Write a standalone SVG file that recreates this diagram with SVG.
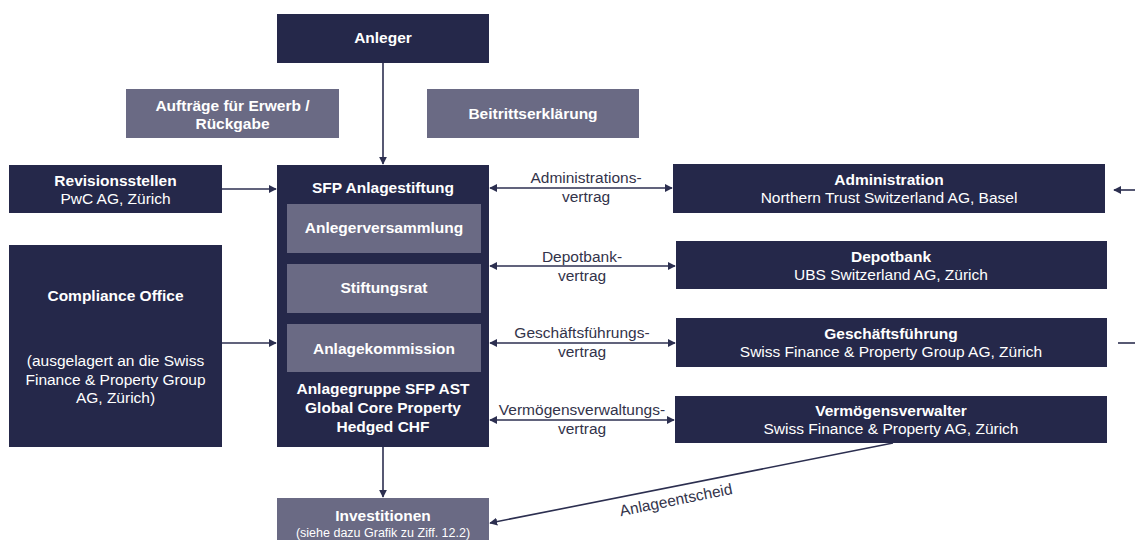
<svg xmlns="http://www.w3.org/2000/svg" width="1135" height="540" viewBox="0 0 1135 540">
<style>
.dark{fill:#25284a}
.gray{fill:#6a6a84}
.t{font-family:"Liberation Sans",Arial,sans-serif;font-size:15.5px;fill:#ffffff;text-anchor:middle}
.b{font-weight:bold}
.s{font-size:12.5px}
.lbl{font-family:"Liberation Sans",Arial,sans-serif;font-size:15.5px;fill:#33334a;text-anchor:middle}
.ln{stroke:#2c2f50;stroke-width:1.6;fill:none}
</style>
<defs>
<marker id="ah" viewBox="0 0 10 10" refX="9" refY="5" markerWidth="8" markerHeight="8" markerUnits="userSpaceOnUse" orient="auto-start-reverse">
<path d="M0,0 L10,5 L0,10 z" fill="#2c2f50"/>
</marker>
</defs>
<rect width="1135" height="540" fill="#ffffff"/>

<g id="connectors">
<line class="ln" x1="383" y1="62" x2="383" y2="164" marker-end="url(#ah)"/>
<line class="ln" x1="222" y1="189" x2="276" y2="189" marker-end="url(#ah)"/>
<line class="ln" x1="222" y1="343" x2="276" y2="343" marker-end="url(#ah)"/>
<line class="ln" x1="383" y1="447" x2="383" y2="497" marker-end="url(#ah)"/>
<line class="ln" x1="490" y1="188" x2="672" y2="188" marker-start="url(#ah)" marker-end="url(#ah)"/>
<line class="ln" x1="490" y1="266" x2="675" y2="266" marker-start="url(#ah)" marker-end="url(#ah)"/>
<line class="ln" x1="490" y1="343" x2="675" y2="343" marker-start="url(#ah)" marker-end="url(#ah)"/>
<line class="ln" x1="490" y1="420" x2="674" y2="420" marker-start="url(#ah)" marker-end="url(#ah)"/>
<line class="ln" x1="893" y1="443" x2="490" y2="523" marker-end="url(#ah)"/>
<line class="ln" x1="1135" y1="190" x2="1114" y2="190" marker-end="url(#ah)"/>
<line class="ln" x1="1118" y1="343" x2="1135" y2="343" stroke="#8a8a9a"/>
<text class="lbl" x="586" y="183">Administrations-</text>
<text class="lbl" x="586" y="202">vertrag</text>
<text class="lbl" x="582" y="262">Depotbank-</text>
<text class="lbl" x="582" y="281">vertrag</text>
<text class="lbl" x="582" y="338">Geschäftsführungs-</text>
<text class="lbl" x="582" y="357">vertrag</text>
<text class="lbl" x="582" y="415">Vermögensverwaltungs-</text>
<text class="lbl" x="582" y="434">vertrag</text>
<text class="lbl" transform="translate(677,505) rotate(-11.3)" x="0" y="0">Anlageentscheid</text>
</g>

<g id="anleger">
<rect class="dark" x="277" y="14" width="212" height="49"/>
<text class="t b" x="383" y="43">Anleger</text>
</g>

<g id="auftraege">
<rect class="gray" x="126" y="89" width="213" height="49"/>
<text class="t b" x="232.5" y="111">Aufträge für Erwerb /</text>
<text class="t b" x="232.5" y="129">Rückgabe</text>
</g>

<g id="beitritt">
<rect class="gray" x="427" y="89" width="212" height="49"/>
<text class="t b" x="533" y="119">Beitrittserklärung</text>
</g>

<g id="revision">
<rect class="dark" x="9" y="165" width="213" height="48"/>
<text class="t b" x="115.5" y="186">Revisionsstellen</text>
<text class="t" x="115.5" y="204">PwC AG, Zürich</text>
</g>

<g id="compliance">
<rect class="dark" x="9" y="245" width="213" height="202"/>
<text class="t b" x="115.5" y="301">Compliance Office</text>
<text class="t" x="115.5" y="366">(ausgelagert an die Swiss</text>
<text class="t" x="115.5" y="385">Finance &amp; Property Group</text>
<text class="t" x="115.5" y="403">AG, Zürich)</text>
</g>

<g id="sfp">
<rect class="dark" x="277" y="165" width="212" height="282"/>
<text class="t b" x="383" y="193">SFP Anlagestiftung</text>
<rect class="gray" x="287" y="204" width="194" height="49"/>
<text class="t b" x="384" y="233">Anlegerversammlung</text>
<rect class="gray" x="287" y="264" width="194" height="49"/>
<text class="t b" x="384" y="293">Stiftungsrat</text>
<rect class="gray" x="287" y="324" width="194" height="48"/>
<text class="t b" x="384" y="354">Anlagekommission</text>
<text class="t b" x="383" y="394">Anlagegruppe SFP AST</text>
<text class="t b" x="383" y="413">Global Core Property</text>
<text class="t b" x="383" y="432">Hedged CHF</text>
</g>

<g id="investitionen">
<rect class="gray" x="277" y="498" width="212" height="48"/>
<text class="t b" x="383" y="521">Investitionen</text>
<text class="t s" x="383" y="537">(siehe dazu Grafik zu Ziff. 12.2)</text>
</g>

<g id="administration">
<rect class="dark" x="673" y="164" width="432" height="49"/>
<text class="t b" x="889" y="185">Administration</text>
<text class="t" x="889" y="203">Northern Trust Switzerland AG, Basel</text>
</g>

<g id="depotbank">
<rect class="dark" x="676" y="241" width="431" height="48"/>
<text class="t b" x="891" y="262">Depotbank</text>
<text class="t" x="891" y="280">UBS Switzerland AG, Zürich</text>
</g>

<g id="geschaeftsfuehrung">
<rect class="dark" x="676" y="318" width="431" height="49"/>
<text class="t b" x="891" y="339">Geschäftsführung</text>
<text class="t" x="891" y="357">Swiss Finance &amp; Property Group AG, Zürich</text>
</g>

<g id="vermoegensverwalter">
<rect class="dark" x="675" y="396" width="432" height="47"/>
<text class="t b" x="891" y="416">Vermögensverwalter</text>
<text class="t" x="891" y="434">Swiss Finance &amp; Property AG, Zürich</text>
</g>
</svg>
